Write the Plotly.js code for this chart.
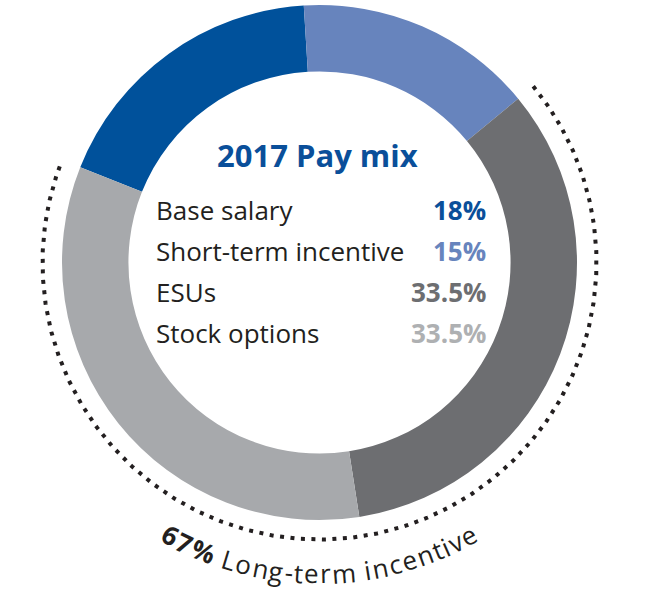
<!DOCTYPE html>
<html>
<head>
<meta charset="utf-8">
<script src="https://cdn.plot.ly/plotly-3.0.1.min.js"></script>
<style>html,body{margin:0;padding:0;background:#fff;}#chart{width:654px;height:599px;}</style>
</head>
<body>
<div id="chart"></div>
<script>
// ---- data ----
const labels = ['Base salary', 'Short-term incentive', 'ESUs', 'Stock options'];
const values = [18, 15, 33.5, 33.5];
const valueText = ['18%', '15%', '33.5%', '33.5%'];
const sliceColors = ['#00519B', '#6784BD', '#6D6E71', '#A7A9AC'];
const valueColors = ['#0A4F9A', '#6784BD', '#6D6E71', '#AEB0B2'];
const chartTitle = '2017 Pay mix';
const ltiShare = '67%';
const ltiLabel = 'Long-term incentive';
const ltiSlices = [2, 3];          // indices of slices covered by the dotted arc
const startRotation = -68.3;       // angle where first slice starts (deg, clockwise from top)

// ---- layout geometry ----
const W = 654, H = 599;
const domX = [62 / W, 577 / W];
const domY = [1 - 520 / H, 1 - 5 / H];
const cx = (domX[0] + domX[1]) / 2 * W;
const cy = (1 - (domY[0] + domY[1]) / 2) * H;
const R = (domX[1] - domX[0]) * W / 2;
const textColor = '#231F20';
const FONT = 'Open Sans, Noto Sans, sans-serif';

// dotted arc over long-term incentive slices (drawn on hidden pixel-scaled axes)
const total = values.reduce((a, b) => a + b, 0);
let cum = 0; const sliceStart = [];
values.forEach(v => { sliceStart.push(startRotation + cum / total * 360); cum += v; });
const arcStart = sliceStart[ltiSlices[0]];
const last = ltiSlices[ltiSlices.length - 1];
const arcEnd = sliceStart[last] + values[last] / total * 360;
const arcRadius = 277;
const arcX = [], arcY = [];
for (let t = arcStart; t <= arcEnd + 1e-9; t += 0.5) {
  const a = t * Math.PI / 180;
  arcX.push(cx + arcRadius * Math.sin(a));
  arcY.push(cy - arcRadius * Math.cos(a));
}

const traces = [
  {
    type: 'pie', values: values, labels: labels, sort: false, direction: 'clockwise',
    rotation: startRotation, hole: 0.742, textinfo: 'none', hoverinfo: 'none',
    marker: { colors: sliceColors, line: { width: 0 } },
    domain: { x: domX, y: domY }, showlegend: false
  },
  {
    type: 'scatter', x: arcX, y: arcY, mode: 'lines', cliponaxis: false,
    line: { color: textColor, width: 4, dash: '4px,6.5px' }, hoverinfo: 'none', showlegend: false
  }
];

const annotations = [];
const px = x => x / W, py = y => 1 - y / H;

annotations.push({
  xref: 'paper', yref: 'paper', x: px(cx - 2), y: py(155), xanchor: 'center', yanchor: 'middle',
  text: '<b>' + chartTitle + '</b>', showarrow: false,
  font: { family: FONT, size: 31, color: '#0A4F9A' }
});
const rowY = [210, 251, 292, 333];
labels.forEach((lab, i) => {
  annotations.push({
    xref: 'paper', yref: 'paper', x: px(154), y: py(rowY[i]), xanchor: 'left', yanchor: 'middle',
    text: lab, showarrow: false, font: { family: FONT, size: 26, color: textColor }
  });
  annotations.push({
    xref: 'paper', yref: 'paper', x: px(488), y: py(rowY[i]), xanchor: 'right', yanchor: 'middle',
    text: '<b>' + valueText[i] + '</b>', showarrow: false, font: { family: FONT, size: 26, color: valueColors[i] }
  });
});

// curved "67% Long-term incentive"
const canvas = document.createElement('canvas');
const ctx = canvas.getContext('2d');
const curveSize = 26;
const tracking = 1.1;
const segs = [{ t: ltiShare, bold: true }, { t: ' ' + ltiLabel, bold: false }];
const chars = [];
segs.forEach(s => {
  ctx.font = (s.bold ? 'bold ' : '') + curveSize + 'px "Open Sans"';
  for (const ch of s.t) chars.push({ ch: ch, bold: s.bold, w: ctx.measureText(ch).width + tracking });
});
const totalW = chars.reduce((a, c) => a + c.w, 0);
const rText = 311;
const thetaC = 180;
let off = 0;
chars.forEach(c => {
  const mid = off + c.w / 2; off += c.w;
  if (c.ch === ' ') return;
  const th = thetaC + (totalW / 2 - mid) / rText * 180 / Math.PI;
  const rad = th * Math.PI / 180;
  const x = cx + rText * Math.sin(rad), y = cy - rText * Math.cos(rad);
  annotations.push({
    xref: 'paper', yref: 'paper', x: px(x), y: py(y), xanchor: 'center', yanchor: 'middle',
    text: c.bold ? '<b>' + c.ch + '</b>' : c.ch, textangle: th - 180, showarrow: false,
    borderpad: 0, font: { family: FONT, size: curveSize, color: textColor }
  });
});

const layout = {
  width: W, height: H, margin: { l: 0, r: 0, t: 0, b: 0 },
  paper_bgcolor: '#ffffff', plot_bgcolor: 'rgba(0,0,0,0)', showlegend: false,
  xaxis: { visible: false, range: [0, W], fixedrange: true },
  yaxis: { visible: false, range: [H, 0], fixedrange: true },
  annotations: annotations
};
Plotly.newPlot('chart', traces, layout, { displayModeBar: false, staticPlot: true });
</script>
</body>
</html>
